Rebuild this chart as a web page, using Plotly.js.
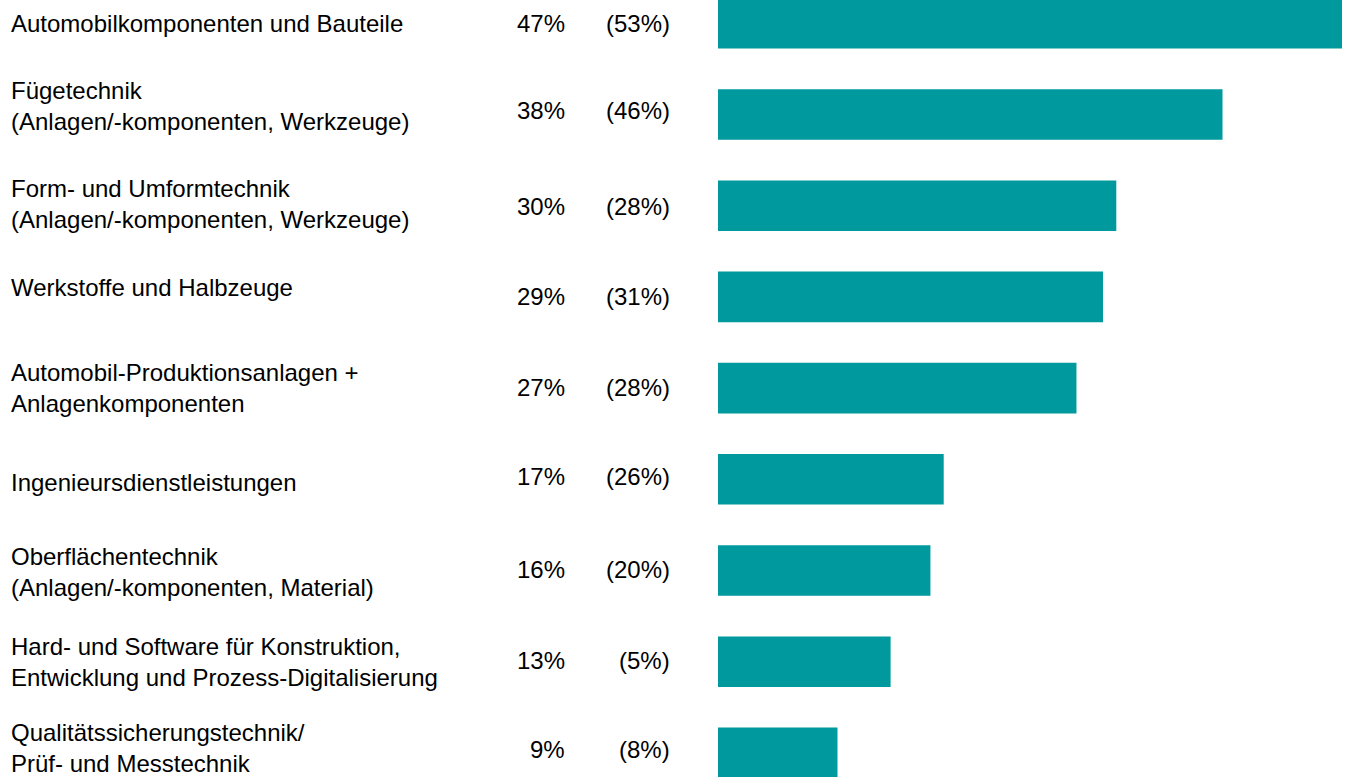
<!DOCTYPE html>
<html>
<head>
<meta charset="utf-8">
<script src="https://cdn.plot.ly/plotly-3.0.1.min.js"></script>
<style>html,body{margin:0;padding:0;background:#fff;}#chart{width:1349px;height:777px;}</style>
</head>
<body>
<div id="chart"></div>
<script>
// ---- data ----
const categories = [
  "Automobilkomponenten und Bauteile",
  "Fügetechnik<br>(Anlagen/-komponenten, Werkzeuge)",
  "Form- und Umformtechnik<br>(Anlagen/-komponenten, Werkzeuge)",
  "Werkstoffe und Halbzeuge",
  "Automobil-Produktionsanlagen +<br>Anlagenkomponenten",
  "Ingenieursdienstleistungen",
  "Oberflächentechnik<br>(Anlagen/-komponenten, Material)",
  "Hard- und Software für Konstruktion,<br>Entwicklung und Prozess-Digitalisierung",
  "Qualitätssicherungstechnik/<br>Prüf- und Messtechnik"
];
const currentValues = [47, 38, 30, 29, 27, 17, 16, 13, 9];
const previousValues = [53, 46, 28, 31, 28, 26, 20, 5, 8];

// ---- layout tweaks (pixel shifts of text relative to bar centre) ----
const labelShift = [0, 9, 2, 9, 0, -3, -1, 0, 5];
const pctShift = [0, 4, -1, 0, 1, 3, 1, 1, 3];

const W = 1349, H = 777;
const idx = categories.map((_, i) => i);
const font = {family: "Liberation Sans, Arial, sans-serif", size: 24, color: "#000"};

const annotations = [];
idx.forEach(i => {
  annotations.push({
    xref: "paper", yref: "y", x: 10 / W, y: i, xanchor: "left", yanchor: "middle",
    text: categories[i], showarrow: false, align: "left", font: font, borderpad: 0,
    yshift: labelShift[i]
  });
  annotations.push({
    xref: "paper", yref: "y", x: 566 / W, y: i, xanchor: "right", yanchor: "middle",
    text: currentValues[i] + "%", showarrow: false, align: "right", font: font, borderpad: 0,
    yshift: pctShift[i]
  });
  annotations.push({
    xref: "paper", yref: "y", x: 671 / W, y: i, xanchor: "right", yanchor: "middle",
    text: "(" + previousValues[i] + "%)", showarrow: false, align: "right", font: font, borderpad: 0,
    yshift: pctShift[i]
  });
});

// x scale: 0 at px 718, 47 at px 1342
const pxPerUnit = (1342 - 718) / 47;
const xMin = -718 / pxPerUnit;
const xMax = xMin + W / pxPerUnit;

const trace = {
  type: "bar", orientation: "h",
  x: currentValues, y: idx,
  width: 0.555,
  marker: {color: "#00999D", line: {width: 0}},
  hoverinfo: "skip"
};

const layout = {
  width: W, height: H,
  margin: {l: 0, r: 0, t: 0, b: 0, pad: 0},
  paper_bgcolor: "#fff", plot_bgcolor: "#fff",
  showlegend: false,
  xaxis: {range: [xMin, xMax], visible: false, fixedrange: true},
  yaxis: {range: [8.264, -0.2555], visible: false, fixedrange: true},
  annotations: annotations,
  font: font
};

Plotly.newPlot("chart", [trace], layout, {staticPlot: true, displayModeBar: false});
</script>
</body>
</html>
